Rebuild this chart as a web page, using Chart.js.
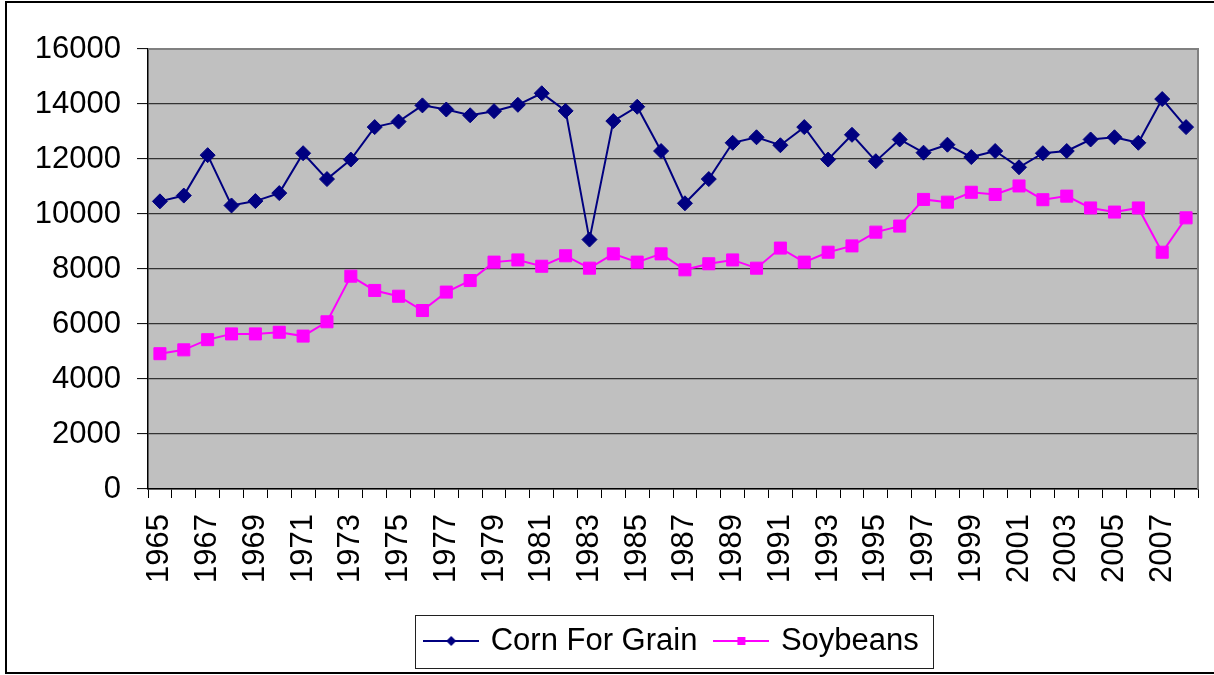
<!DOCTYPE html>
<html>
<head>
<meta charset="utf-8">
<script src="https://cdn.jsdelivr.net/npm/chart.js@4/dist/chart.umd.min.js"></script>
<style>
  body { margin: 0; background: #ffffff; }
  canvas { display: block; }
</style>
</head>
<body>
<canvas class="yield-chart" width="1214" height="675"></canvas>
<script>
// Chart data
const years = [
  "1965", "1966", "1967", "1968", "1969", "1970", "1971", "1972", "1973", "1974",
  "1975", "1976", "1977", "1978", "1979", "1980", "1981", "1982", "1983", "1984",
  "1985", "1986", "1987", "1988", "1989", "1990", "1991", "1992", "1993", "1994",
  "1995", "1996", "1997", "1998", "1999", "2000", "2001", "2002", "2003", "2004",
  "2005", "2006", "2007", "2008",
];

const corn = [
  10460, 10670, 12140, 10310, 10470, 10760, 12210, 11270, 11980, 13160,
  13360, 13950, 13800, 13590, 13740, 13970, 14390, 13750, 9070, 13380,
  13900, 12290, 10390, 11270, 12590, 12790, 12500, 13160, 11980, 12880,
  11920, 12710, 12230, 12520, 12070, 12290, 11700, 12210, 12290, 12710,
  12790, 12590, 14180, 13160,
];

const soybeans = [
  4920, 5060, 5430, 5640, 5640, 5700, 5560, 6080, 7740, 7220,
  7010, 6490, 7160, 7580, 8250, 8330, 8100, 8480, 8030, 8550,
  8250, 8550, 7970, 8190, 8330, 8030, 8760, 8250, 8610, 8840,
  9340, 9560, 10530, 10430, 10790, 10710, 11020, 10520, 10650, 10220,
  10070, 10220, 8610, 9860,
];

const yTicks = [0, 2000, 4000, 6000, 8000, 10000, 12000, 14000, 16000];

const cornColor = "#000080";
const soyColor = "#ff00ff";
const fontFamily = "'Liberation Sans', Arial, sans-serif";

// Legend icons: a short line with the marker in the middle
function legendIcon(color, shape) {
  const c = document.createElement("canvas");
  c.width = 56;
  c.height = 14;
  const g = c.getContext("2d");
  g.strokeStyle = color;
  g.lineWidth = 2;
  g.beginPath();
  g.moveTo(0, 7);
  g.lineTo(56, 7);
  g.stroke();
  g.fillStyle = color;
  g.beginPath();
  if (shape === "diamond") {
    g.moveTo(28, 2);
    g.lineTo(33, 7);
    g.lineTo(28, 12);
    g.lineTo(23, 7);
    g.closePath();
  } else {
    g.rect(24, 3, 8, 8);
  }
  g.fill();
  return c;
}

const icons = [legendIcon(cornColor, "diamond"), legendIcon(soyColor, "square")];

// Background, plot area fill, outer frame and legend box
const framePlugin = {
  id: "frame",
  beforeDraw(chart) {
    const { ctx, chartArea: a } = chart;
    ctx.save();
    ctx.fillStyle = "#ffffff";
    ctx.fillRect(0, 0, chart.width, chart.height);
    ctx.fillStyle = "#c0c0c0";
    ctx.fillRect(a.left, a.top, a.right - a.left, a.bottom - a.top);
    ctx.restore();
  },
  afterDraw(chart) {
    const { ctx, chartArea: a } = chart;
    ctx.save();
    // plot area border (top and right)
    ctx.strokeStyle = "#808080";
    ctx.lineWidth = 2;
    ctx.beginPath();
    ctx.moveTo(a.left, a.top);
    ctx.lineTo(a.right, a.top);
    ctx.lineTo(a.right, a.bottom);
    ctx.stroke();
    // outer frame
    ctx.strokeStyle = "#000000";
    ctx.lineWidth = 2;
    ctx.strokeRect(6, 2, 1220, 671);
    // legend box
    const boxes = chart.legend.legendHitBoxes;
    if (boxes && boxes.length) {
      const left = Math.min(...boxes.map((b) => b.left)) - 12;
      const right = Math.max(...boxes.map((b) => b.left + b.width)) + 14;
      const top = Math.min(...boxes.map((b) => b.top)) - 11;
      const bottom = Math.max(...boxes.map((b) => b.top + b.height)) + 11;
      ctx.strokeStyle = "#202020";
      ctx.lineWidth = 1;
      ctx.strokeRect(Math.round(left) + 0.5, Math.round(top) + 0.5, Math.round(right - left), Math.round(bottom - top));
    }
    ctx.restore();
  },
};

const ctx = document.querySelector(".yield-chart").getContext("2d");

const data = {
  labels: years,
  datasets: [
    {
      label: "Corn For Grain",
      data: corn,
      borderColor: cornColor,
      backgroundColor: cornColor,
      borderWidth: 2,
      pointStyle: "rectRot",
      pointRadius: 7.5,
      pointBorderWidth: 1,
      pointBackgroundColor: cornColor,
      pointBorderColor: cornColor,
    },
    {
      label: "Soybeans",
      data: soybeans,
      borderColor: soyColor,
      backgroundColor: soyColor,
      borderWidth: 2,
      pointStyle: "rect",
      pointRadius: 8.5,
      pointBorderWidth: 1,
      pointBackgroundColor: soyColor,
      pointBorderColor: soyColor,
    },
  ],
};

const config = {
  type: "line",
  data: data,
  options: {
    responsive: false,
    animation: false,
    layout: {
      padding: { top: 49, right: 16, bottom: 8.5, left: 0 },
    },
    plugins: {
      tooltip: { enabled: false },
      legend: {
        position: "bottom",
        fullSize: false,
        labels: {
          usePointStyle: true,
          pointStyleWidth: 48,
          padding: 20,
          color: "#000000",
          font: { family: fontFamily, size: 31 },
          generateLabels(chart) {
            const items = Chart.defaults.plugins.legend.labels.generateLabels(chart);
            items.forEach((item, i) => {
              item.pointStyle = icons[i];
            });
            return items;
          },
        },
      },
    },
    scales: {
      x: {
        type: "category",
        offset: true,
        afterFit(scale) {
          scale.height = 116.5;
          // keep the rotated labels from shrinking the plot area
          scale.paddingLeft = 0;
          scale.paddingRight = 0;
        },
        grid: {
          offset: true,
          drawOnChartArea: false,
          tickLength: 9,
          tickColor: "#000000",
          tickWidth: 1,
        },
        border: { color: "#000000", width: 1.5 },
        ticks: {
          autoSkip: false,
          maxRotation: 90,
          minRotation: 90,
          padding: 16,
          color: "#000000",
          font: { family: fontFamily, size: 31 },
          callback: function (value, index) {
            return index % 2 === 0 ? years[index] : "";
          },
        },
      },
      y: {
        min: 0,
        max: 16000,
        afterFit(scale) {
          scale.width = 148;
        },
        afterBuildTicks(scale) {
          scale.ticks = yTicks.map((v) => ({ value: v }));
        },
        grid: {
          color: "#333333",
          lineWidth: 1.2,
          tickLength: 11,
          tickColor: "#000000",
          tickWidth: 1,
        },
        border: { color: "#000000", width: 1.5 },
        ticks: {
          padding: 16,
          color: "#000000",
          font: { family: fontFamily, size: 31 },
          callback: function (value) {
            return String(value);
          },
        },
      },
    },
  },
  plugins: [framePlugin],
};

const yieldChart = new Chart(ctx, config);
</script>
</body>
</html>
